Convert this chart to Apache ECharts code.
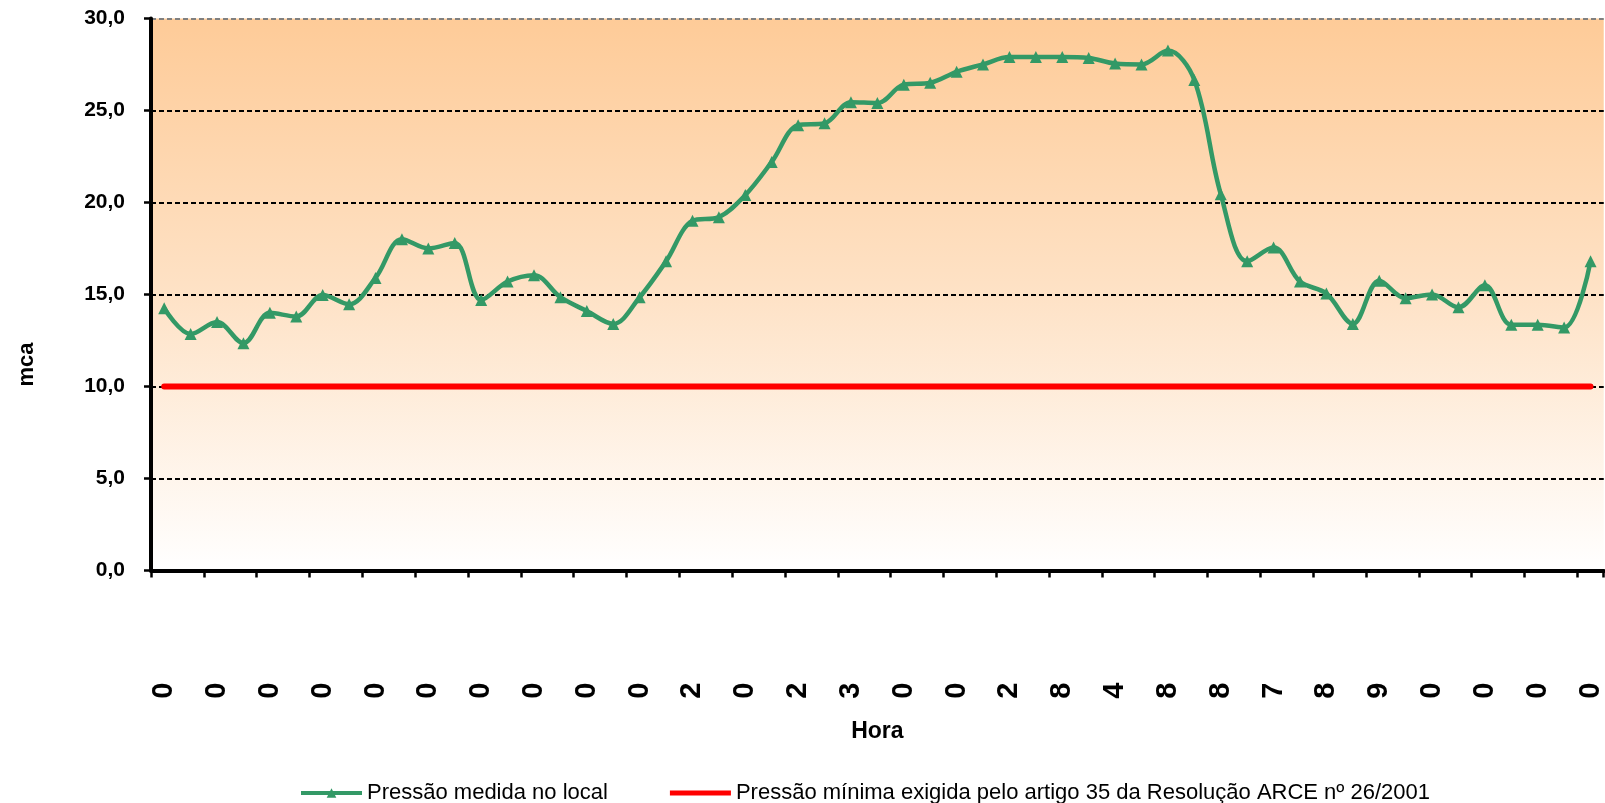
<!DOCTYPE html>
<html>
<head>
<meta charset="utf-8">
<script src="https://cdn.jsdelivr.net/npm/echarts@6/dist/echarts.min.js"></script>
<style>
html,body{margin:0;padding:0;background:#fff;}
#chart{width:1605px;height:803px;}
</style>
</head>
<body>
<div id="chart"></div>
<script>
// Category labels (rendered rotated, as in the reference); one per measurement point
const categories = [
  "0","","0","","0","","0","","0","","0","","0","","0","","0","","0","",
  "2","","0","","2","","3","","0","","0","","2","","8","","4","","8","",
  "8","","7","","8","","9","","0","","0","","0","","0"
];
// Pressão medida no local (mca)
const pressaoMedida = [
  14.25, 12.85, 13.5, 12.35, 14.0, 13.8, 14.97, 14.47, 15.9, 18.0,
  17.5, 17.8, 14.7, 15.7, 16.05, 14.85, 14.1, 13.4, 14.85, 16.8,
  19.0, 19.2, 20.4, 22.2, 24.2, 24.3, 25.45, 25.4, 26.4, 26.5,
  27.1, 27.5, 27.9, 27.9, 27.9, 27.85, 27.55, 27.5, 28.25, 26.65,
  20.45, 16.8, 17.55, 15.7, 15.05, 13.4, 15.75, 14.8, 15.0, 14.3,
  15.5, 13.35, 13.35, 13.2, 16.8
];
// Pressão mínima exigida (mca)
const pressaoMinima = [
  10,10,10,10,10,10,10,10,10,10, 10,10,10,10,10,10,10,10,10,10,
  10,10,10,10,10,10,10,10,10,10, 10,10,10,10,10,10,10,10,10,10,
  10,10,10,10,10,10,10,10,10,10, 10,10,10,10,10
];
const yTicks = { min: 0, max: 30, interval: 5 };
const seriesNames = [
  "Pressão medida no local",
  "Pressão mínima exigida pelo artigo 35 da Resolução ARCE nº 26/2001"
];

const chart = echarts.init(document.getElementById('chart'), null, { renderer: 'canvas' });
const FONT = '"Liberation Sans", Arial, sans-serif';

chart.setOption({
  animation: false,
  backgroundColor: '#ffffff',
  grid: {
    left: 151, top: 18.4, right: -3, bottom: 232.5,
    show: true,
    borderWidth: 0,
    backgroundColor: {
      type: 'linear', x: 0, y: 0, x2: 0, y2: 1,
      colorStops: [
        { offset: 0, color: '#FECB98' },
        { offset: 0.5, color: '#FEE2C6' },
        { offset: 1, color: '#FFFFFF' }
      ]
    }
  },
  legend: {
    left: 294, top: 777,
    itemWidth: 61, itemHeight: 12, itemGap: 62,
    lineStyle: { width: 4 },
    textStyle: { fontFamily: FONT, fontSize: 22, color: '#000' },
    data: [
      { name: seriesNames[0] },
      { name: seriesNames[1], icon: 'path://M0,0L100,0L100,8L0,8Z' }
    ]
  },
  xAxis: {
    type: 'category',
    data: categories,
    boundaryGap: true,
    name: 'Hora',
    nameLocation: 'middle',
    nameGap: 150,
    nameTextStyle: { fontFamily: FONT, fontSize: 23, fontWeight: 'bold', color: '#000' },
    axisLine: { show: true, lineStyle: { color: '#000', width: 4 } },
    axisTick: { show: true, interval: 1, alignWithLabel: false, length: 7, lineStyle: { color: '#000', width: 2.5 } },
    axisLabel: {
      interval: 1, rotate: 90, margin: 112,
      fontFamily: FONT, fontSize: 29, fontWeight: 'bold', color: '#000'
    },
    splitLine: { show: false }
  },
  yAxis: {
    type: 'value',
    min: yTicks.min, max: yTicks.max, interval: yTicks.interval,
    name: 'mca',
    nameLocation: 'middle',
    nameGap: 113,
    nameTextStyle: { fontFamily: FONT, fontSize: 22, fontWeight: 'bold', color: '#000', padding: [0, 140, 0, 0] },
    axisLine: { show: true, lineStyle: { color: '#000', width: 4 } },
    axisTick: { show: true, length: 7, lineStyle: { color: '#000', width: 2.5 } },
    axisLabel: {
      margin: 26,
      fontFamily: FONT, fontSize: 21, fontWeight: 'bold', color: '#000',
      formatter: v => v.toFixed(1).replace('.', ',')
    },
    splitLine: {
      show: true,
      lineStyle: {
        color: ['#000', '#000', '#000', '#000', '#000', '#000', '#808080'],
        width: 2, type: [5, 3]
      }
    }
  },
  series: [
    {
      name: seriesNames[0],
      type: 'line',
      data: pressaoMedida,
      smooth: 0.35,
      symbol: 'triangle',
      symbolSize: 12,
      itemStyle: { color: '#339966' },
      lineStyle: { color: '#339966', width: 4.5 },
      z: 3
    },
    {
      name: seriesNames[1],
      type: 'line',
      data: pressaoMinima,
      symbol: 'none',
      itemStyle: { color: '#FF0000' },
      lineStyle: { color: '#FF0000', width: 6, cap: 'round' },
      z: 2
    }
  ]
});
</script>
</body>
</html>
